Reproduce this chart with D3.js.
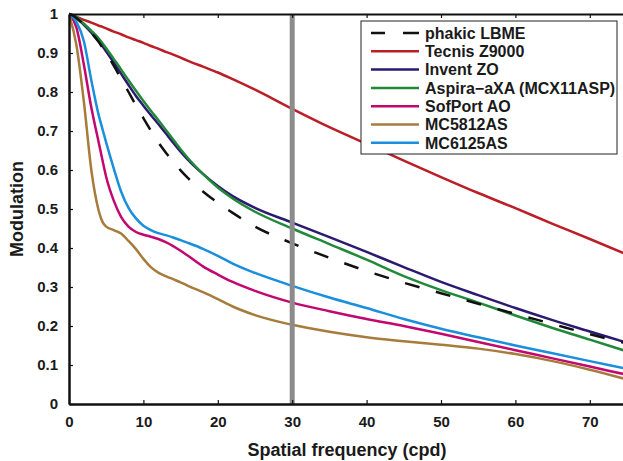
<!DOCTYPE html>
<html>
<head>
<meta charset="utf-8">
<script src="https://cdn.jsdelivr.net/npm/d3@7"></script>
<style>
  body { margin: 0; background: #fff; }
  svg { display: block; font-family: "Liberation Sans", Arial, sans-serif; font-weight: bold; }
</style>
</head>
<body>
<svg></svg>
<script>
// spatial frequency samples (cpd)
let freq = [0, 1, 2, 3, 4, 4.5, 5, 6, 7, 8, 9, 10, 11, 12, 13, 14, 15, 16, 18, 20, 22, 25, 30, 35, 40, 45, 50, 55, 60, 65, 70, 75];

let phakic  = [1, 0.99, 0.972, 0.952, 0.928, 0.914, 0.9, 0.868, 0.834, 0.8, 0.766, 0.733, 0.701, 0.671, 0.645, 0.621, 0.599, 0.579, 0.545, 0.516, 0.49, 0.455, 0.412, 0.375, 0.341, 0.311, 0.284, 0.257, 0.231, 0.205, 0.179, 0.155];
let tecnis  = [1, 0.993, 0.985, 0.978, 0.97, 0.967, 0.963, 0.955, 0.948, 0.94, 0.933, 0.926, 0.918, 0.911, 0.903, 0.896, 0.888, 0.88, 0.865, 0.85, 0.833, 0.806, 0.757, 0.71, 0.667, 0.624, 0.582, 0.541, 0.502, 0.462, 0.423, 0.383];
let invent  = [1, 0.99, 0.972, 0.952, 0.93, 0.917, 0.904, 0.876, 0.847, 0.818, 0.79, 0.765, 0.741, 0.718, 0.694, 0.67, 0.647, 0.626, 0.59, 0.559, 0.533, 0.503, 0.465, 0.428, 0.39, 0.351, 0.313, 0.279, 0.246, 0.215, 0.186, 0.157];
let aspira  = [1, 0.992, 0.975, 0.957, 0.937, 0.925, 0.912, 0.885, 0.858, 0.83, 0.803, 0.777, 0.752, 0.728, 0.703, 0.678, 0.653, 0.63, 0.59, 0.555, 0.527, 0.493, 0.45, 0.41, 0.37, 0.328, 0.292, 0.26, 0.227, 0.195, 0.165, 0.135];
let sofport = [1, 0.965, 0.87, 0.76, 0.67, 0.625, 0.582, 0.522, 0.48, 0.455, 0.441, 0.434, 0.429, 0.423, 0.415, 0.405, 0.393, 0.38, 0.353, 0.332, 0.313, 0.29, 0.26, 0.238, 0.218, 0.2, 0.18, 0.159, 0.138, 0.117, 0.096, 0.075];
let mc5812  = [1, 0.92, 0.775, 0.6, 0.495, 0.467, 0.455, 0.446, 0.437, 0.418, 0.397, 0.372, 0.351, 0.337, 0.328, 0.32, 0.312, 0.303, 0.287, 0.269, 0.25, 0.228, 0.203, 0.185, 0.171, 0.161, 0.152, 0.142, 0.128, 0.11, 0.088, 0.063];
let mc6125  = [1, 0.98, 0.93, 0.83, 0.74, 0.705, 0.67, 0.605, 0.545, 0.503, 0.476, 0.457, 0.446, 0.438, 0.433, 0.427, 0.42, 0.413, 0.398, 0.38, 0.36, 0.336, 0.303, 0.273, 0.246, 0.218, 0.193, 0.171, 0.15, 0.13, 0.11, 0.09];

let names = ["phakic LBME", "Tecnis Z9000", "Invent ZO", "Aspira\u2212aXA (MCX11ASP)", "SofPort AO", "MC5812AS", "MC6125AS"];
let colors = ["#111111", "#bb1e26", "#2a1a70", "#23893a", "#c2076f", "#a77b3c", "#1a8fdc"];
let seriesValues = [phakic, tecnis, invent, aspira, sofport, mc5812, mc6125];

let xTicks = [0, 10, 20, 30, 40, 50, 60, 70];
let yTicks = [0, 0.1, 0.2, 0.3, 0.4, 0.5, 0.6, 0.7, 0.8, 0.9, 1];
let markerFreq = 30;

let width = 623;
let height = 461;
let plotLeft = 69, plotRight = 627, plotTop = 14, plotBottom = 404;

let svg = d3.select("svg").attr("width", width).attr("height", height);

let xScale = d3.scaleLinear().domain([0, 75]).range([plotLeft, plotRight]);
let yScale = d3.scaleLinear().domain([0, 1]).range([plotBottom, plotTop]);

svg.append("clipPath").attr("id", "plot-clip")
   .append("rect")
   .attr("x", plotLeft).attr("y", plotTop - 3)
   .attr("width", plotRight - plotLeft).attr("height", plotBottom - plotTop + 3);

let line = d3.line()
             .x((d) => xScale(d[0]))
             .y((d) => yScale(d[1]))
             .curve(d3.curveMonotoneX);

let lines = svg.append("g").attr("clip-path", "url(#plot-clip)");

// solid curves first, dashed reference on top
let order = [1, 2, 3, 4, 5, 6, 0];
order.forEach((i) => {
    let pts = freq.map((f, j) => [f, seriesValues[i][j]]);
    lines.append("path")
         .attr("d", line(pts))
         .attr("fill", "none")
         .attr("stroke", colors[i])
         .attr("stroke-width", 2.5)
         .attr("stroke-dasharray", i == 0 ? "15,17" : null);
});

// grey marker at 30 cpd
svg.append("line")
   .attr("x1", xScale(markerFreq)).attr("x2", xScale(markerFreq))
   .attr("y1", yScale(1)).attr("y2", yScale(0))
   .attr("stroke", "#8c8c8c")
   .attr("stroke-width", 5);

let styleAxis = (g, w) => {
    g.select(".domain").attr("stroke", "#111").attr("stroke-width", w);
    g.selectAll(".tick line").attr("stroke", "#111").attr("stroke-width", 1.2);
    g.selectAll("text").attr("fill", "#1a1a1a").style("font-size", "15px").style("font-weight", "bold");
}

svg.append("g")
   .attr("transform", "translate(0," + plotBottom + ")")
   .call(d3.axisBottom(xScale).tickValues(xTicks).tickSize(-4).tickSizeOuter(0).tickPadding(12).tickFormat(d3.format("d")))
   .call((g) => styleAxis(g, 2.5));

svg.append("g")
   .attr("transform", "translate(" + plotLeft + ",0)")
   .call(d3.axisLeft(yScale).tickValues(yTicks).tickSize(-4).tickSizeOuter(0).tickPadding(11).tickFormat((d) => d3.format("~g")(d)))
   .call((g) => styleAxis(g, 2.5));

svg.append("g")
   .attr("transform", "translate(0," + plotTop + ")")
   .call(d3.axisTop(xScale).tickValues(xTicks).tickSize(-4).tickSizeOuter(0).tickFormat(""))
   .call((g) => styleAxis(g, 2));

svg.append("g")
   .attr("transform", "translate(" + plotRight + ",0)")
   .call(d3.axisRight(yScale).tickValues(yTicks).tickSize(-4).tickSizeOuter(0).tickFormat(""))
   .call((g) => styleAxis(g, 2));

svg.append("text")
   .attr("x", 347).attr("y", 456)
   .attr("text-anchor", "middle")
   .style("font-size", "18px")
   .attr("fill", "#1a1a1a")
   .text("Spatial frequency (cpd)");

svg.append("text")
   .attr("transform", "translate(23,209) rotate(-90)")
   .attr("text-anchor", "middle")
   .style("font-size", "18px")
   .attr("fill", "#1a1a1a")
   .text("Modulation");

// legend
let legend = svg.append("g");
legend.append("rect")
      .attr("x", 361).attr("y", 21)
      .attr("width", 256).attr("height", 133)
      .attr("fill", "#fff")
      .attr("stroke", "#222")
      .attr("stroke-width", 1);

names.forEach((name, i) => {
    let y = 33 + i * 18.3;
    legend.append("line")
          .attr("x1", 371).attr("x2", 419)
          .attr("y1", y).attr("y2", y)
          .attr("stroke", colors[i])
          .attr("stroke-width", 2.5)
          .attr("stroke-dasharray", i == 0 ? "14,18,16,100" : null);
    legend.append("text")
          .attr("x", 425).attr("y", y)
          .attr("dy", "0.36em")
          .style("font-size", "16px")
          .attr("fill", "#1a1a1a")
          .text(name);
});
</script>
</body>
</html>
